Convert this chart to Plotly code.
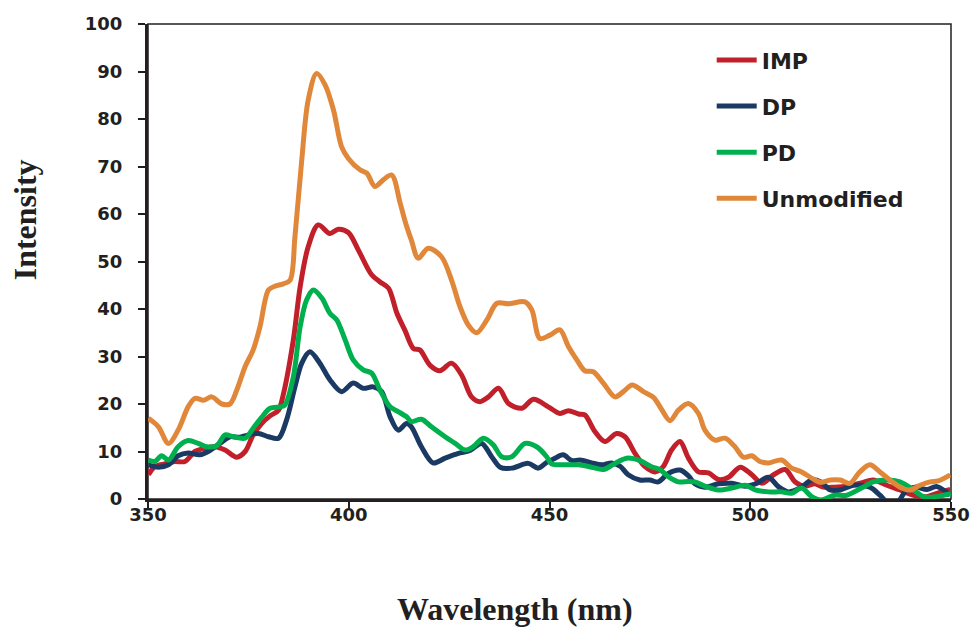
import plotly.graph_objects as go

# Fluorescence emission spectra (intensity vs wavelength)
imp_x = [350.1, 351.7, 354.2, 356.7, 359.2, 361.7, 364.2, 366.7, 369.2, 372.1, 374.2, 376.2,
         378.3, 380.4, 382.5, 383.7, 386.2, 387.9, 389.9, 392.4, 395.3, 397.4, 399.9, 402.4,
         405.7, 407.8, 409.9, 412.0, 414.0, 416.1, 417.7, 420.2, 422.7, 425.6, 428.1, 430.6,
         432.7, 434.8, 437.3, 439.8, 443.1, 446.0, 449.7, 452.6, 454.7, 457.2, 458.8, 461.3,
         463.8, 466.7, 468.8, 471.3, 473.8, 476.3, 478.3, 480.4, 482.5, 484.6, 487.1, 489.6,
         492.1, 494.6, 497.5, 500.4, 502.9, 505.8, 508.7, 511.2, 513.7, 516.1, 518.2, 521.0,
         524.0, 527.7, 530.6, 534.0, 537.3, 540.7, 544.0, 546.5, 549.8]
imp_y = [5.1, 6.8, 7.4, 7.9, 7.9, 10.0, 10.7, 11.0, 10.3, 8.8, 10.0, 13.5,
         15.9, 17.5, 18.7, 22.0, 33.5, 44.7, 53.1, 57.7, 55.9, 56.8, 56.1, 52.4,
         47.2, 45.7, 44.4, 39.1, 35.5, 31.7, 31.4, 28.2, 27.0, 28.6, 26.1, 21.5,
         20.5, 21.5, 23.3, 20.1, 19.1, 21.0, 19.4, 18.0, 18.6, 17.9, 17.7, 14.2,
         12.1, 13.8, 13.1, 9.6, 6.8, 5.7, 6.8, 10.3, 12.1, 8.6, 5.7, 5.5,
         4.1, 4.6, 6.7, 5.1, 3.3, 5.1, 6.2, 3.6, 2.7, 3.2, 2.5, 2.5,
         2.7, 3.4, 4.0, 2.9, 1.9, 0.8, 0.5, 1.2, 2.0]

dp_x = [350.1, 352.6, 355.1, 357.5, 360.0, 362.9, 365.4, 367.9, 370.4, 372.9, 375.0, 377.5,
        380.0, 382.5, 384.5, 386.6, 388.3, 390.3, 392.8, 395.3, 398.2, 401.1, 403.6, 406.1,
        408.2, 410.3, 412.3, 414.4, 415.6, 418.1, 421.0, 424.0, 427.3, 430.2, 433.1, 435.6,
        437.7, 440.6, 444.7, 447.2, 449.3, 451.0, 453.4, 455.5, 457.6, 460.5, 463.0, 465.5,
        467.6, 469.6, 472.5, 475.0, 477.1, 479.6, 482.5, 484.6, 486.2, 488.7, 492.1, 495.4,
        498.7, 501.6, 504.5, 507.0, 509.5, 512.4, 515.3, 517.6, 519.9, 522.4, 525.7, 529.8,
        532.3, 534.4, 536.5, 538.6, 541.1, 544.0, 546.5, 549.8]
dp_y = [7.2, 6.7, 7.2, 9.1, 9.7, 9.3, 10.2, 11.7, 13.1, 13.0, 13.5, 13.8,
        13.1, 12.8, 16.6, 23.6, 28.6, 31.0, 28.6, 25.1, 22.6, 24.4, 23.3, 23.6,
        22.6, 17.3, 14.5, 15.9, 15.2, 11.0, 7.6, 8.6, 9.6, 10.2, 11.7, 8.9,
        6.7, 6.5, 7.5, 6.5, 7.7, 8.4, 9.3, 8.1, 8.2, 7.6, 7.2, 7.6,
        6.9, 5.1, 4.0, 4.0, 3.6, 5.4, 6.1, 4.9, 3.2, 2.5, 3.2, 3.3,
        2.7, 3.3, 4.6, 2.6, 1.5, 2.3, 4.0, 3.6, 1.9, 1.9, 2.9, 2.5,
        0.8, -0.9, -0.9, 1.5, 2.5, 2.0, 2.6, 0.8]

pd_x = [350.1, 351.7, 353.4, 355.1, 357.5, 360.0, 362.5, 364.6, 367.1, 369.2, 371.2, 374.2,
        376.2, 378.3, 380.4, 382.9, 384.1, 386.2, 387.9, 389.5, 391.2, 393.3, 395.3, 397.0,
        399.1, 401.1, 403.6, 405.7, 407.8, 410.3, 412.3, 414.4, 415.6, 418.1, 420.6, 424.0,
        426.5, 429.0, 431.0, 433.5, 436.0, 438.1, 440.6, 443.9, 446.8, 449.3, 450.5, 453.8,
        457.2, 460.5, 463.4, 466.3, 469.2, 472.5, 475.4, 477.5, 479.6, 482.1, 484.6, 486.2,
        488.7, 492.1, 495.4, 498.7, 501.2, 504.5, 507.8, 510.3, 512.8, 515.3, 517.6, 521.0,
        524.0, 527.7, 530.6, 534.0, 537.3, 540.7, 543.1, 545.6, 548.1, 550.0]
pd_y = [8.2, 7.9, 9.1, 8.2, 11.0, 12.3, 11.7, 11.0, 11.2, 13.5, 13.1, 12.8,
        14.9, 17.2, 19.1, 19.4, 19.8, 25.7, 36.3, 41.9, 44.0, 42.3, 39.1, 37.7,
        33.5, 29.3, 27.2, 26.5, 22.9, 19.4, 18.4, 17.3, 16.3, 16.8, 15.2, 13.1,
        11.7, 10.3, 11.0, 12.8, 11.4, 8.9, 8.9, 11.7, 11.0, 8.9, 7.4, 7.2,
        7.2, 6.7, 6.2, 7.5, 8.6, 8.1, 6.8, 6.2, 4.7, 3.6, 3.7, 3.6,
        2.7, 1.9, 2.3, 2.9, 1.9, 1.5, 1.5, 1.2, 2.3, 0.5, -0.2, 0.8,
        0.8, 2.3, 3.6, 4.0, 3.6, 1.9, 0.5, 0.4, 0.8, 1.1]

unmod_x = [350.1, 352.6, 355.1, 357.5, 360.0, 361.7, 363.8, 365.9, 368.4, 370.4, 372.1, 374.2,
           376.2, 377.9, 380.0, 381.6, 383.7, 385.4, 386.6, 388.3, 389.9, 392.0, 394.1, 396.2,
           398.2, 399.9, 402.8, 404.5, 406.5, 408.6, 410.7, 412.8, 414.2, 415.6, 417.3, 419.8,
           423.1, 425.6, 427.7, 429.8, 431.9, 434.4, 436.9, 439.8, 443.9, 445.6, 447.6, 450.1,
           452.6, 454.7, 456.8, 458.8, 460.9, 463.4, 466.3, 468.4, 470.6, 473.4, 475.9, 477.9,
           480.0, 482.1, 484.6, 487.1, 488.7, 491.2, 493.7, 496.2, 498.3, 500.4, 502.4, 504.5,
           507.8, 510.3, 512.8, 515.3, 517.6, 519.9, 522.4, 524.8, 527.3, 529.8, 532.3, 534.8,
           537.3, 539.8, 542.3, 544.8, 546.8, 549.8]
unmod_y = [17.0, 15.2, 11.7, 14.5, 19.4, 21.2, 20.8, 21.5, 20.0, 20.0, 22.9, 27.9,
           31.4, 36.3, 44.0, 44.8, 45.3, 46.1, 55.2, 71.4, 84.0, 89.6, 87.2, 81.9,
           74.2, 71.7, 69.3, 68.6, 65.8, 67.2, 68.2, 62.3, 58.0, 54.5, 50.7, 52.8,
           51.0, 46.1, 40.5, 36.6, 35.0, 37.7, 41.2, 41.1, 41.5, 39.8, 33.8, 34.5,
           35.6, 32.1, 29.3, 27.0, 26.8, 24.4, 21.5, 22.6, 24.0, 22.6, 21.4, 18.9,
           16.5, 18.7, 20.1, 18.0, 14.5, 12.4, 12.8, 11.0, 8.8, 9.1, 7.9, 7.6,
           8.2, 6.5, 5.7, 4.4, 3.5, 4.0, 4.0, 3.3, 5.7, 7.2, 5.7, 4.0,
           2.5, 1.9, 2.9, 3.6, 3.8, 5.1]

series_names = ["IMP", "DP", "PD", "Unmodified"]
series_colors = ["#C1202B", "#1B3A63", "#00B04F", "#E0873A"]
series_x = [imp_x, dp_x, pd_x, unmod_x]
series_y = [imp_y, dp_y, pd_y, unmod_y]

x_ticks = [350, 400, 450, 500, 550]
y_ticks = [0, 10, 20, 30, 40, 50, 60, 70, 80, 90, 100]

AXIS_COLOR = "#231F20"
TICK_FONT = dict(family="DejaVu Sans", size=18, color=AXIS_COLOR, weight="bold")

fig = go.Figure()

for i, (name, color, xs, ys) in enumerate(zip(series_names, series_colors, series_x, series_y)):
    fig.add_trace(go.Scatter(
        x=xs, y=ys, name=name, mode="lines",
        line=dict(color=color, width=5, shape="spline", smoothing=0.9),
        legendgroup=f"g{i}",
    ))

# Thin frame around the plot area (top / right edges)
fig.add_shape(type="rect", xref="paper", yref="paper", x0=0, y0=0, x1=1, y1=1,
              line=dict(color=AXIS_COLOR, width=1.5), layer="below")

fig.update_layout(
    width=974, height=629,
    margin=dict(l=148, r=23, t=24, b=130),
    paper_bgcolor="white", plot_bgcolor="white",
    showlegend=True,
    legend=dict(
        x=0.702, y=0.968, xanchor="left", yanchor="top",
        font=dict(family="DejaVu Sans", size=22, color=AXIS_COLOR, weight="bold"),
        traceorder="grouped", tracegroupgap=14.5,
        bgcolor="rgba(0,0,0,0)", itemwidth=40,
    ),
    xaxis=dict(
        range=[350, 550], tickmode="array", tickvals=x_ticks,
        showgrid=False, zeroline=False, automargin=False,
        showline=True, linecolor=AXIS_COLOR, linewidth=3,
        ticks="outside", ticklen=8, tickwidth=2, tickcolor=AXIS_COLOR,
        tickfont=TICK_FONT, ticklabelstandoff=-11,
    ),
    yaxis=dict(
        range=[0, 100], tickmode="array", tickvals=y_ticks,
        showgrid=False, zeroline=False, automargin=False,
        showline=True, linecolor=AXIS_COLOR, linewidth=3,
        ticks="outside", ticklen=7, tickwidth=2, tickcolor=AXIS_COLOR,
        tickfont=TICK_FONT, ticklabelstandoff=12,
    ),
    annotations=[
        dict(text="Wavelength (nm)", xref="paper", yref="paper", x=0.457, y=-0.232,
             xanchor="center", yanchor="middle", showarrow=False,
             font=dict(family="Liberation Serif", size=32, color=AXIS_COLOR, weight="bold")),
        dict(text="Intensity", xref="paper", yref="paper", x=-0.153, y=0.587,
             xanchor="center", yanchor="middle", showarrow=False, textangle=-90,
             font=dict(family="Liberation Serif", size=32, color=AXIS_COLOR, weight="bold")),
    ],
)

fig.write_html("out.html")
